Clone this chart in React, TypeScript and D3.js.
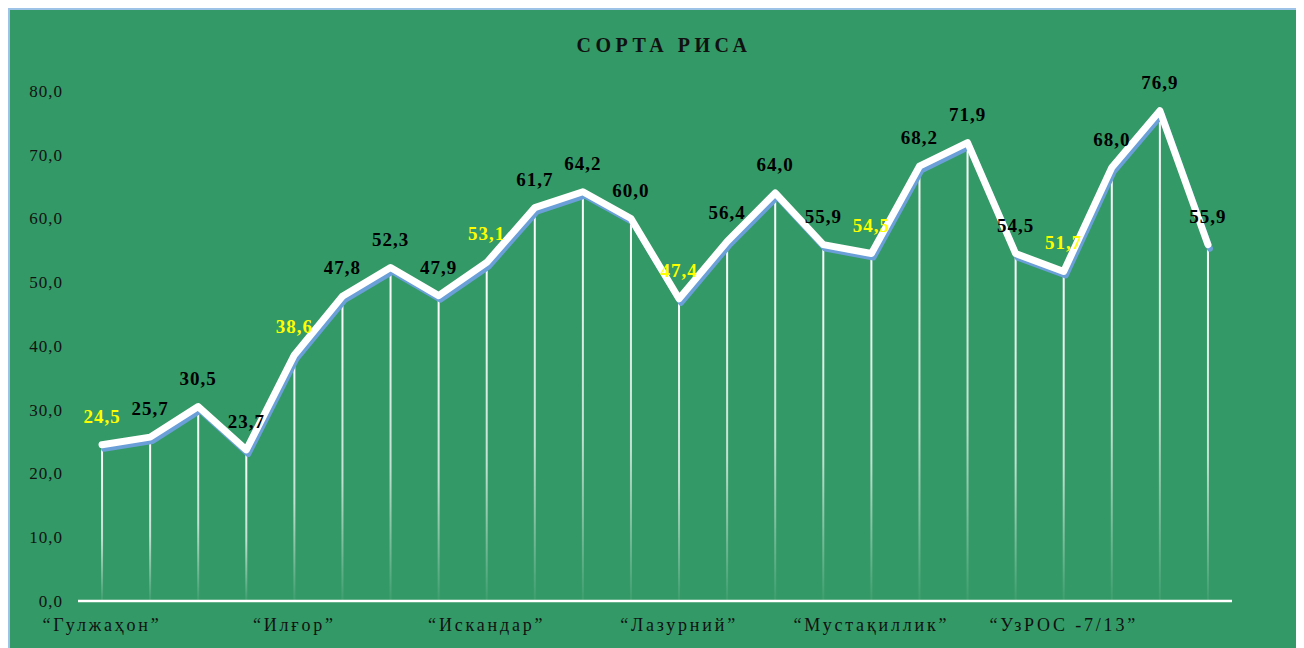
import React from "react";
import * as d3 from "d3";

const categories = [
  "“Гулжаҳон”", "", "", "",
  "“Илғор”", "", "", "",
  "“Искандар”", "", "", "",
  "“Лазурний”", "", "", "",
  "“Мустақиллик”", "", "", "",
  "“УзРОС -7/13”", "", "", "",
];
const values = [
  24.5, 25.7, 30.5, 23.7,
  38.6, 47.8, 52.3, 47.9,
  53.1, 61.7, 64.2, 60.0,
  47.4, 56.4, 64.0, 55.9,
  54.5, 68.2, 71.9, 54.5,
  51.7, 68.0, 76.9, 55.9,
];
const highlighted = [0, 4, 8, 12, 16, 20];
const yTicks = [0, 10, 20, 30, 40, 50, 60, 70, 80];
const title = "СОРТА РИСА";

const W = 1296;
const H = 640;
const X0 = 70;
const X1 = 1224;
const Y0 = 593;
const Y80 = 83;

export default function App() {
  const ids = values.map((_, i) => String(i));
  const x = d3.scaleBand<string>().domain(ids).range([X0, X1]).padding(0);
  const y = d3.scaleLinear().domain([0, 80]).range([Y0, Y80]);
  const cx = (i: number) => (x(String(i)) as number) + x.bandwidth() / 2;
  const line = d3
    .line<number>()
    .x((_, i) => cx(i))
    .y((d) => y(d))
    .curve(d3.curveLinear);
  const path = line(values) || "";
  const fmt = (v: number) => v.toFixed(1).replace(".", ",");
  const serif = "'Liberation Serif', 'Times New Roman', serif";

  return (
    <svg width={W} height={H} style={{ display: "block" }}>
      <defs>
        <linearGradient id="drop" x1="0" y1="0" x2="0" y2="1">
          <stop offset="0" stopColor="#ffffff" stopOpacity={1} />
          <stop offset="0.6" stopColor="#ffffff" stopOpacity={0.7} />
          <stop offset="1" stopColor="#ffffff" stopOpacity={0.05} />
        </linearGradient>
      </defs>
      <rect x={0} y={0} width={W + 20} height={H + 20} fill="#339966" />
      <rect x={1} y={1} width={W + 20} height={H + 20} fill="none" stroke="#9dc3e6" strokeWidth={2} />

      <text
        x={656}
        y={44}
        textAnchor="middle"
        fontFamily={serif}
        fontWeight="bold"
        fontSize={20}
        letterSpacing={4.5}
        fill="#111"
      >
        {title}
      </text>

      {yTicks.map((t) => (
        <text
          key={t}
          x={55}
          y={y(t)}
          dy="0.35em"
          textAnchor="end"
          fontFamily={serif}
          fontSize={17}
          letterSpacing={1}
          fill="#111"
        >
          {fmt(t)}
        </text>
      ))}

      {values.map((v, i) => (
        <rect
          key={"d" + i}
          x={cx(i) - 1}
          y={y(v)}
          width={2}
          height={Y0 - y(v)}
          fill="url(#drop)"
        />
      ))}

      <line x1={X0} x2={X1} y1={Y0} y2={Y0} stroke="#ffffff" strokeWidth={2.5} />

      <path
        d={path}
        transform="translate(2,4)"
        fill="none"
        stroke="#6a9fd8"
        strokeWidth={6}
        strokeLinejoin="round"
        strokeLinecap="round"
      />
      <path
        d={path}
        fill="none"
        stroke="#ffffff"
        strokeWidth={7}
        strokeLinejoin="round"
        strokeLinecap="round"
      />

      {values.map((v, i) => (
        <text
          key={"l" + i}
          x={cx(i)}
          y={y(v) - 22}
          textAnchor="middle"
          fontFamily={serif}
          fontWeight="bold"
          fontSize={19}
          letterSpacing={1}
          fill={highlighted.includes(i) ? "#ffff00" : "#000"}
        >
          {fmt(v)}
        </text>
      ))}

      {categories.map((c, i) =>
        c ? (
          <text
            key={"c" + i}
            x={cx(i)}
            y={617}
            dy="0.35em"
            textAnchor="middle"
            fontFamily={serif}
            fontSize={18}
            letterSpacing={2.8}
            fill="#111"
          >
            {c}
          </text>
        ) : null
      )}
    </svg>
  );
}
